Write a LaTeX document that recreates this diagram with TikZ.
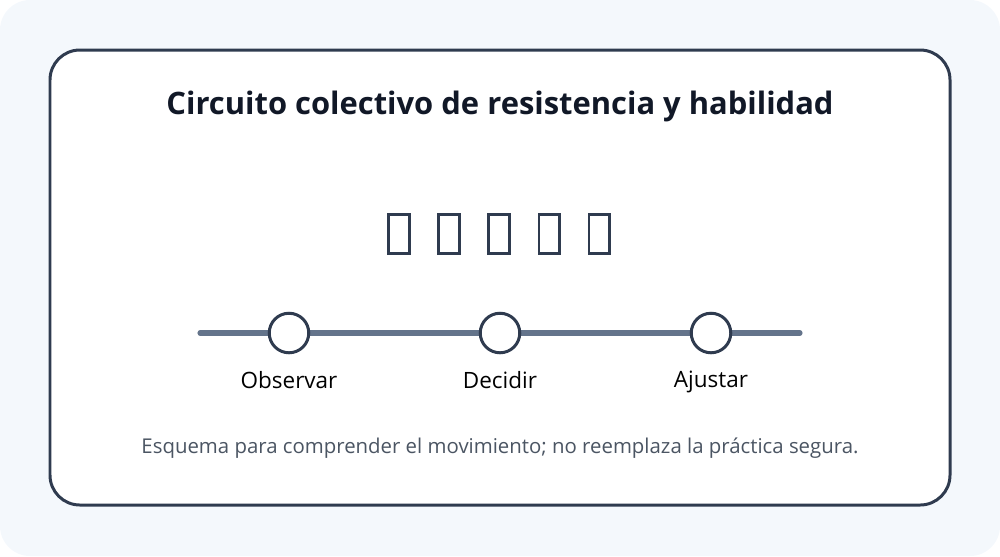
\documentclass[tikz,border=0pt]{standalone}
\usepackage{fontspec}
\setmainfont{Open Sans}
\usetikzlibrary{positioning}

\definecolor{fondo}{HTML}{F4F8FC}
\definecolor{borde}{HTML}{2F3B4F}
\definecolor{linea}{HTML}{64748B}
\definecolor{titulo}{HTML}{111827}
\definecolor{nota}{HTML}{4B5563}

\tikzset{
	hito/.style = {circle, draw = borde, line width = 1.7pt, fill = white, minimum size = 22.5pt, inner sep = 0pt},
	rotulo/.style = {font = \fontsize{12.8}{15}\selectfont, text = black},
	icono/.style = {rectangle, draw = borde, line width = 1.6pt, minimum width = 11.5pt, minimum height = 22pt, inner sep = 0pt}
}

\begin{document}
\begin{tikzpicture}[x = 0.02cm, y = -0.02cm]
	%	fondo y marco
	\fill[fondo, rounded corners = 17pt] (0, 0) rectangle (1000, 556);
	\useasboundingbox (0, 0) rectangle (1000, 556);
	\draw[borde, line width = 1.7pt, fill = white, rounded corners = 17pt] (50, 50) rectangle (950, 505);
	
	%	titulo
	\node[font = \fontsize{17.6}{20}\selectfont\bfseries, text = titulo] (title) at (500, 106) {Circuito colectivo de resistencia y habilidad};
	
	%	iconos sin glifo
	\foreach \i in {1, ..., 5}
		\node[icono] (icon\i) at ({349 + 50*\i}, 234) {};
	
	%	linea de pasos
	\coordinate (lineL) at (200, 333);
	\coordinate (lineR) at (800, 333);
	\draw[linea, line width = 2.9pt, line cap = round] (lineL) -- (lineR);
	
	\node[hito] (obs) at (289, 333) {};
	\node[hito] (dec) at (500, 333) {};
	\node[hito] (adj) at (711, 333) {};
	
	\node[rotulo, below = 6pt of obs] (obsL) {Observar};
	\node[rotulo, below = 6pt of dec] (decL) {Decidir};
	\node[rotulo, below = 6pt of adj] (adjL) {Ajustar};
	
	%	nota
	\node[font = \fontsize{11.6}{13}\selectfont, text = nota] (note) at (500, 448) {Esquema para comprender el movimiento; no reemplaza la práctica segura.};
\end{tikzpicture}
\end{document}
